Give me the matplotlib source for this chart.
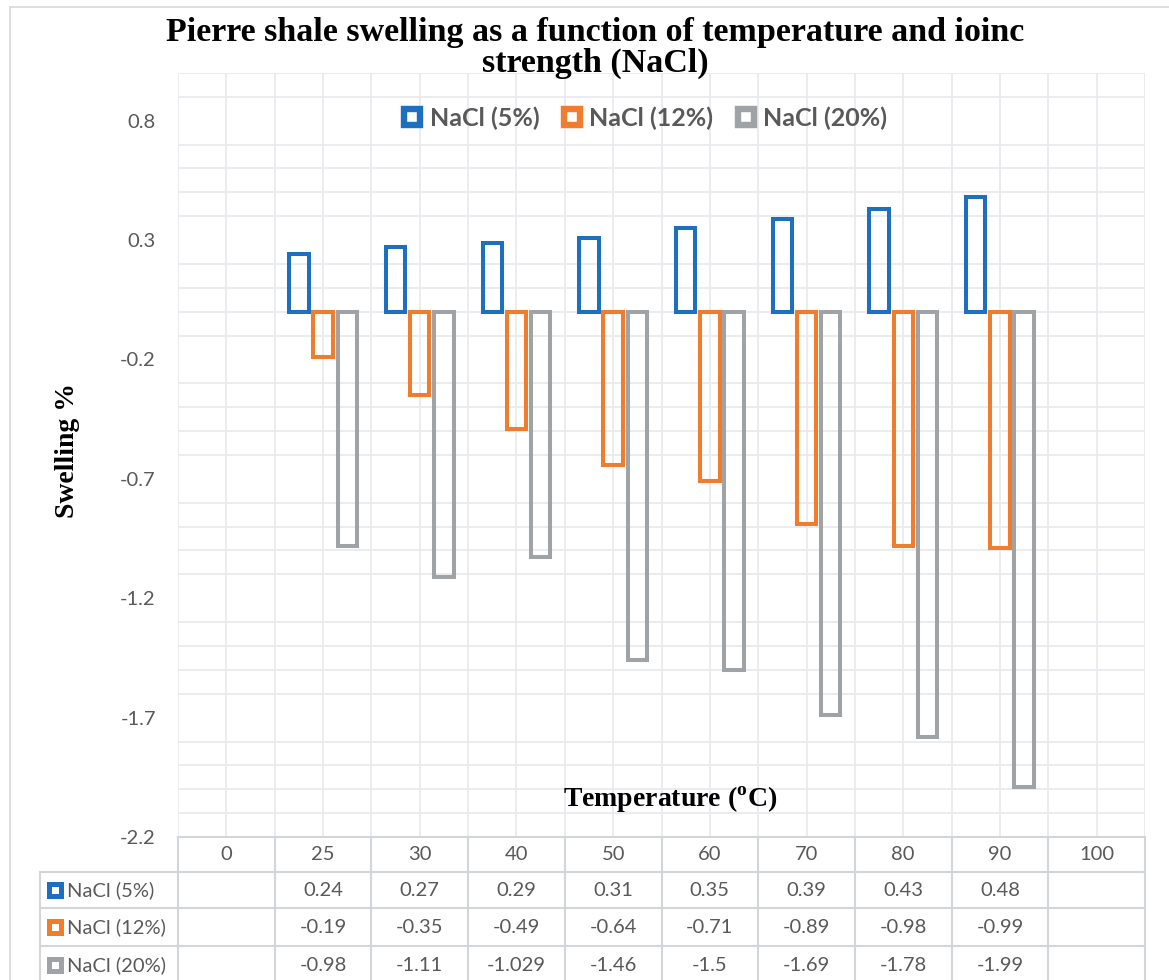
import matplotlib
matplotlib.use("Agg")
import matplotlib.pyplot as plt
from matplotlib.lines import Line2D
import numpy as np

# ---- data -------------------------------------------------------------
temperatures = ["0", "25", "30", "40", "50", "60", "70", "80", "90", "100"]
series_names = ["NaCl (5%)", "NaCl (12%)", "NaCl (20%)"]
nacl_5 = [None, 0.24, 0.27, 0.29, 0.31, 0.35, 0.39, 0.43, 0.48, None]
nacl_12 = [None, -0.19, -0.35, -0.49, -0.64, -0.71, -0.89, -0.98, -0.99, None]
nacl_20 = [None, -0.98, -1.11, -1.029, -1.46, -1.5, -1.69, -1.78, -1.99, None]
y_tick_values = [0.8, 0.3, -0.2, -0.7, -1.2, -1.7, -2.2]

series = [nacl_5, nacl_12, nacl_20]
colors = ["#1F6FC1", "#F07D2E", "#A0A3A6"]
text_gray = "#595959"
grid_color = "#E8EBEE"
table_color = "#D3D6D9"

serif = "Liberation Serif"
sans = "Lato"
plt.rcParams["axes.unicode_minus"] = False
plt.rcParams["mathtext.fontset"] = "custom"
plt.rcParams["mathtext.rm"] = serif
plt.rcParams["mathtext.bf"] = serif + ":bold"

W, H = 1169, 980
fig = plt.figure(figsize=(W / 100, H / 100), dpi=100)


def box(l, t, r, b):
    return [l / W, 1 - b / H, (r - l) / W, (b - t) / H]


# ---- chart frame ------------------------------------------------------
fig.add_artist(Line2D([10 / W, 10 / W], [0, 1 - 7 / H], color="#D9D9D9", lw=1.2))
fig.add_artist(Line2D([10 / W, 1], [1 - 7 / H, 1 - 7 / H], color="#D9D9D9", lw=1.2))

ax = fig.add_axes(box(178, 73, 1145, 837))
n = len(temperatures)
x = np.arange(n)
ax.set_xlim(-0.5, n - 0.5)
ax.set_ylim(-2.2, 1.0)

ax.set_yticks(y_tick_values)
ax.set_yticks(np.round(np.arange(-2.2, 1.001, 0.1), 1), minor=True)
ax.set_xticks([])
ax.set_xticks(np.arange(-0.5, n - 0.499, 0.5), minor=True)
ax.grid(which="minor", color=grid_color, lw=1.3)
ax.set_axisbelow(True)
ax.tick_params(which="both", length=0, labelsize=14.5, labelcolor=text_gray, pad=16)
ax.tick_params(axis="x", which="both", labelbottom=False)
for lab in ax.get_yticklabels():
    lab.set_fontfamily(sans)
for s in ax.spines.values():
    s.set_visible(False)

# ---- bars -------------------------------------------------------------
bar_w = 0.2
offsets = [-0.25, 0.0, 0.25]
for vals, off, c in zip(series, offsets, colors):
    idx = [i for i, v in enumerate(vals) if v is not None]
    ax.bar(x[idx] + off, [vals[i] for i in idx], width=bar_w,
           facecolor="none", edgecolor=c, linewidth=2.9, zorder=3)

# ---- legend -----------------------------------------------------------
handles = [Line2D([], [], ls="", marker="s", markersize=11.5,
                  markerfacecolor="white", markeredgecolor=c, markeredgewidth=4.6)
           for c in colors]
fig.legend(handles, series_names, loc="center",
           bbox_to_anchor=(644 / W, 1 - 118 / H), ncol=3, frameon=False,
           prop={"family": sans, "weight": "bold", "size": 18},
           labelcolor=text_gray, handlelength=0.9, handletextpad=0.25,
           columnspacing=0.85, borderaxespad=0)

# ---- titles -----------------------------------------------------------
fig.text(595 / W, 1 - 48 / H,
         "Pierre shale swelling as a function of temperature and ioinc\nstrength (NaCl)",
         ha="center", va="center", fontfamily=serif, fontweight="bold",
         fontsize=24.5, linespacing=0.97, color="black")
fig.text(67 / W, 1 - 450 / H, "Swelling %", rotation=90, ha="center", va="center",
         fontfamily=serif, fontweight="bold", fontsize=20, color="black")
fig.text(670 / W, 1 - 800 / H, r"Temperature ($^{\mathbf{o}}$C)", ha="center",
         va="center", fontfamily=serif, fontweight="bold", fontsize=20, color="black")

# ---- data table -------------------------------------------------------
tb = fig.add_axes(box(178, 837, 1145, 980))
tb.set_xlim(-0.5, n - 0.5)
tb.set_ylim(143, 0)
tb.axis("off")

px_per_cat = (1145 - 178) / n


def px_to_x(px):
    return -0.5 + (px - 178) / px_per_cat


rows = [0, 35, 71, 109, 147]
x_lab = px_to_x(40)
line_kw = dict(color=table_color, lw=1.5, clip_on=False)

for r in rows[:-1]:
    tb.plot([-0.5, n - 0.5], [r, r], **line_kw)
for r in rows[1:-1]:
    tb.plot([x_lab, -0.5], [r, r], **line_kw)
for k in range(n + 1):
    tb.plot([k - 0.5, k - 0.5], [0, rows[-1]], **line_kw)
tb.plot([x_lab, x_lab], [rows[1], rows[-1]], **line_kw)

cell_font = dict(family=sans, size=14.5, color=text_gray)
for i, t in enumerate(temperatures):
    tb.text(i, (rows[0] + rows[1]) / 2, t, ha="center", va="center", **cell_font)

for j, (name, vals, c) in enumerate(zip(series_names, series, colors)):
    yc = (rows[j + 1] + rows[j + 2]) / 2
    tb.plot([px_to_x(54.5)], [yc], ls="", marker="s", markersize=9,
            markerfacecolor="white", markeredgecolor=c, markeredgewidth=3.6,
            clip_on=False)
    tb.text(px_to_x(67), yc, name, ha="left", va="center", clip_on=False, **cell_font)
    for i, v in enumerate(vals):
        if v is not None:
            tb.text(i, yc, f"{v:g}", ha="center", va="center", **cell_font)

fig.savefig("out.png", dpi=100)
